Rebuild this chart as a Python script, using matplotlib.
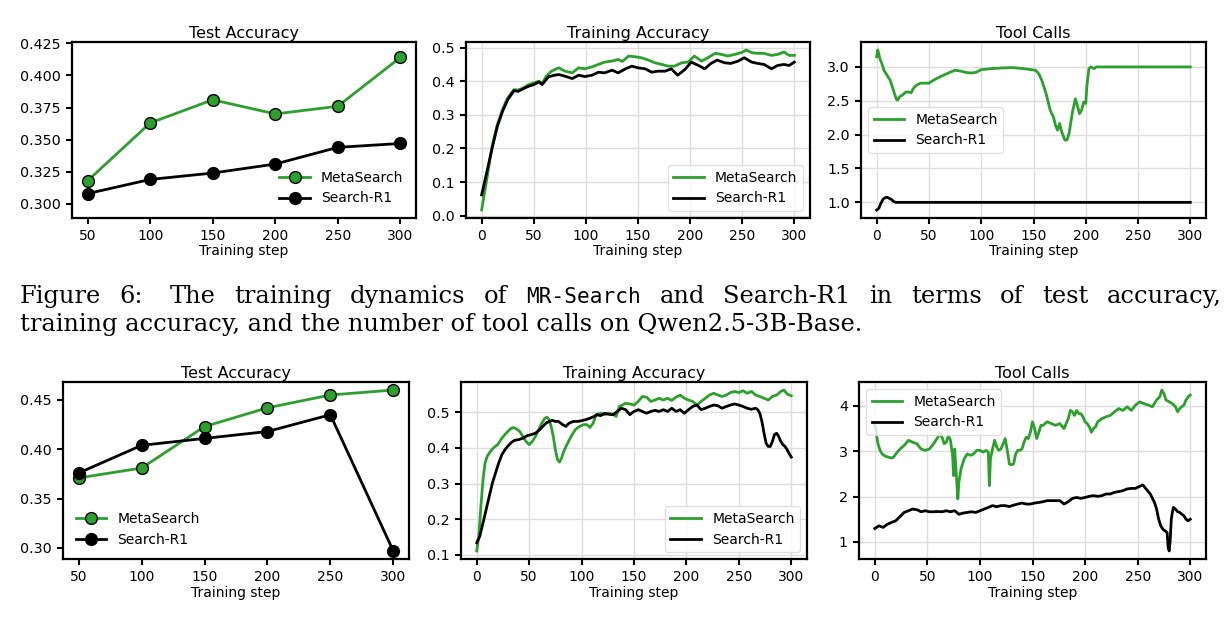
"""
Training dynamics panels (two models) with the caption of Figure 6 in between.
Saves out.png at 1229x621 px.
"""

import matplotlib
matplotlib.use("Agg")
import matplotlib.pyplot as plt

W, H = 1229, 621
GREEN = "#2ca02c"
BLACK = "black"

# ---------------------------------------------------------------------------
# Data
# ---------------------------------------------------------------------------
test_steps = [50, 100, 150, 200, 250, 300]

# row 1 -- Qwen2.5-3B-Base
r1_test_meta = [0.318, 0.363, 0.381, 0.370, 0.376, 0.414]
r1_test_search = [0.308, 0.319, 0.324, 0.331, 0.344, 0.347]

r1_train_meta_x = [0, 5, 10, 15, 20, 25, 31, 35, 40, 45, 50, 55, 58, 62, 67, 74, 80, 87,
                   93, 99, 106, 112, 118, 125, 131, 135, 141, 147, 153, 160, 166, 173,
                   179, 185, 192, 198, 204, 211, 217, 224, 230, 236, 243, 249, 254, 259,
                   265, 271, 278, 284, 290, 295, 300]
r1_train_meta_y = [0.017, 0.11, 0.206, 0.271, 0.316, 0.351, 0.375, 0.374, 0.38, 0.39,
                   0.395, 0.40, 0.393, 0.415, 0.43, 0.44, 0.43, 0.425, 0.44, 0.437,
                   0.443, 0.45, 0.457, 0.46, 0.465, 0.459, 0.475, 0.473, 0.47, 0.463,
                   0.455, 0.45, 0.445, 0.445, 0.455, 0.457, 0.475, 0.46, 0.47, 0.483,
                   0.48, 0.475, 0.48, 0.485, 0.493, 0.485, 0.483, 0.483, 0.477, 0.48,
                   0.487, 0.477, 0.477]
r1_train_search_x = [0, 5, 10, 15, 20, 25, 31, 35, 40, 45, 50, 55, 58, 64, 70, 74, 80, 87,
                     93, 99, 106, 112, 118, 125, 131, 138, 144, 150, 157, 163, 169, 176,
                     182, 188, 195, 201, 208, 214, 220, 226, 233, 239, 246, 252, 259, 265,
                     271, 278, 284, 290, 295, 300]
r1_train_search_y = [0.062, 0.13, 0.20, 0.265, 0.31, 0.345, 0.372, 0.37, 0.378, 0.385,
                     0.39, 0.398, 0.39, 0.413, 0.418, 0.42, 0.415, 0.408, 0.418, 0.414,
                     0.418, 0.427, 0.425, 0.433, 0.425, 0.437, 0.445, 0.44, 0.437, 0.427,
                     0.43, 0.43, 0.437, 0.418, 0.435, 0.457, 0.447, 0.437, 0.453, 0.463,
                     0.455, 0.453, 0.46, 0.47, 0.457, 0.453, 0.45, 0.437, 0.447, 0.45,
                     0.447, 0.457]

r1_tool_meta_x = [0, 1, 2, 3, 5, 7, 9, 11, 13, 15, 17, 19, 20, 22, 25, 28, 30, 33, 35, 38,
                  42, 46, 50, 55, 60, 65, 70, 75, 80, 85, 90, 95, 100, 110, 120, 130, 140,
                  148, 152, 155, 158, 162, 166, 169, 171, 173, 175, 177, 180, 182, 184,
                  187, 190, 192, 194, 196, 198, 200, 201, 203, 205, 208, 210, 220, 250, 300]
r1_tool_meta_y = [3.15, 3.25, 3.2, 3.12, 3.05, 2.95, 2.9, 2.85, 2.8, 2.705, 2.607, 2.518,
                  2.51, 2.56, 2.59, 2.63, 2.63, 2.62, 2.68, 2.73, 2.76, 2.76, 2.76, 2.81,
                  2.85, 2.885, 2.92, 2.95, 2.94, 2.92, 2.91, 2.92, 2.96, 2.975, 2.985,
                  2.99, 2.975, 2.96, 2.95, 2.9, 2.8, 2.607, 2.36, 2.263, 2.14, 2.066,
                  2.165, 2.04, 1.92, 1.92, 2.017, 2.31, 2.53, 2.43, 2.31, 2.36, 2.48,
                  2.46, 2.705, 2.975, 3.0, 2.975, 3.0, 3.0, 3.0, 3.0]
r1_tool_search_x = [0, 2, 4, 6, 8, 10, 12, 14, 16, 18, 20, 300]
r1_tool_search_y = [0.887, 0.91, 0.985, 1.044, 1.069, 1.074, 1.059, 1.044, 1.015, 1.0,
                    1.0, 1.0]

# row 2
r2_test_meta = [0.371, 0.381, 0.423, 0.442, 0.455, 0.460]
r2_test_search = [0.376, 0.404, 0.411, 0.418, 0.435, 0.297]

r2_train_meta_x = [0, 2, 4, 6, 8, 10, 13, 16, 20, 24, 28, 32, 35, 38, 41, 44, 47, 50, 53,
                   56, 59, 62, 65, 67, 69, 71, 73, 75, 77, 79, 81, 83, 86, 90, 94, 98,
                   102, 105, 108, 111, 114, 118, 122, 126, 130, 133, 136, 139, 142, 146,
                   150, 154, 158, 162, 166, 170, 174, 178, 182, 186, 190, 194, 198, 202,
                   206, 210, 214, 218, 222, 226, 230, 234, 238, 242, 246, 250, 254, 258,
                   262, 266, 270, 274, 278, 282, 286, 290, 293, 296, 300]
r2_train_meta_y = [0.111, 0.153, 0.237, 0.311, 0.358, 0.376, 0.39, 0.40, 0.409, 0.427,
                   0.441, 0.453, 0.457, 0.453, 0.446, 0.432, 0.418, 0.409, 0.418, 0.432,
                   0.451, 0.469, 0.483, 0.486, 0.479, 0.46, 0.432, 0.395, 0.367, 0.36,
                   0.372, 0.39, 0.409, 0.432, 0.451, 0.46, 0.465, 0.465, 0.457, 0.469,
                   0.493, 0.497, 0.493, 0.497, 0.494, 0.488, 0.516, 0.52, 0.525, 0.523,
                   0.52, 0.53, 0.544, 0.542, 0.53, 0.534, 0.539, 0.534, 0.539, 0.533,
                   0.542, 0.548, 0.539, 0.534, 0.53, 0.52, 0.53, 0.539, 0.548, 0.553,
                   0.548, 0.544, 0.548, 0.555, 0.558, 0.555, 0.56, 0.553, 0.558, 0.548,
                   0.544, 0.539, 0.534, 0.544, 0.548, 0.558, 0.562, 0.551, 0.546]
r2_train_search_x = [0, 3, 6, 9, 12, 15, 18, 21, 24, 27, 30, 33, 36, 40, 44, 48, 52, 56,
                     60, 63, 66, 69, 72, 75, 78, 82, 85, 88, 92, 96, 100, 104, 108, 112,
                     115, 118, 122, 126, 130, 134, 138, 142, 146, 150, 154, 158, 162, 166,
                     170, 174, 178, 182, 186, 190, 194, 198, 202, 206, 210, 214, 218, 222,
                     226, 230, 234, 238, 242, 246, 250, 254, 258, 262, 266, 268, 270, 272,
                     274, 276, 278, 280, 282, 284, 286, 288, 290, 292, 294, 296, 298, 300]
r2_train_search_y = [0.134, 0.153, 0.19, 0.227, 0.265, 0.302, 0.33, 0.358, 0.381, 0.395,
                     0.406, 0.415, 0.421, 0.423, 0.427, 0.434, 0.437, 0.441, 0.451, 0.46,
                     0.469, 0.474, 0.477, 0.474, 0.474, 0.465, 0.46, 0.469, 0.474, 0.474,
                     0.476, 0.479, 0.483, 0.488, 0.493, 0.49, 0.497, 0.494, 0.493, 0.502,
                     0.511, 0.507, 0.493, 0.502, 0.507, 0.502, 0.497, 0.502, 0.505, 0.502,
                     0.507, 0.502, 0.511, 0.502, 0.507, 0.497, 0.507, 0.516, 0.52, 0.507,
                     0.511, 0.516, 0.52, 0.518, 0.511, 0.516, 0.52, 0.523, 0.52, 0.516,
                     0.511, 0.508, 0.511, 0.507, 0.497, 0.474, 0.441, 0.413, 0.404, 0.404,
                     0.418, 0.437, 0.441, 0.432, 0.418, 0.409, 0.404, 0.395, 0.384, 0.374]

r2_tool_meta_x = [0, 1, 2, 3, 5, 7, 10, 13, 16, 18, 20, 24, 28, 32, 36, 40, 44, 48, 52, 56,
                  60, 62, 64, 66, 68, 70, 72, 74, 75, 76, 77, 79, 80, 82, 85, 88, 91, 94,
                  97, 100, 103, 106, 108, 109, 110, 112, 114, 116, 118, 120, 122, 124,
                  126, 128, 130, 132, 134, 136, 138, 140, 142, 144, 146, 148, 150, 152,
                  154, 156, 158, 160, 164, 168, 172, 176, 180, 184, 186, 188, 190, 192,
                  194, 196, 198, 200, 202, 204, 206, 208, 210, 212, 216, 220, 224, 228,
                  232, 236, 240, 244, 248, 252, 256, 260, 264, 268, 271, 273, 275, 277,
                  280, 283, 286, 288, 290, 292, 294, 296, 298, 300]
r2_tool_meta_y = [3.572, 3.50, 3.31, 3.17, 3.02, 2.94, 2.89, 2.87, 2.85, 2.87, 2.94, 3.05,
                  3.13, 3.24, 3.20, 3.165, 3.05, 3.02, 3.05, 3.165, 3.31, 3.39, 3.31,
                  3.165, 3.20, 3.35, 3.24, 2.91, 2.46, 3.05, 2.68, 1.946, 2.32, 2.61,
                  2.83, 2.94, 2.91, 2.94, 3.02, 3.02, 2.98, 3.02, 2.98, 2.24, 2.83, 3.05,
                  3.24, 3.09, 3.02, 3.05, 3.165, 3.28, 3.02, 2.72, 2.70, 2.72, 2.94, 3.02,
                  3.02, 3.05, 3.20, 3.31, 3.28, 3.42, 3.65, 3.50, 3.28, 3.42, 3.57, 3.57,
                  3.65, 3.61, 3.57, 3.61, 3.50, 3.72, 3.90, 3.87, 3.79, 3.90, 3.83, 3.83,
                  3.76, 3.65, 3.61, 3.54, 3.42, 3.50, 3.54, 3.65, 3.72, 3.76, 3.79, 3.87,
                  3.94, 3.90, 3.98, 3.90, 4.02, 4.09, 4.05, 4.02, 3.98, 4.13, 4.20, 4.35,
                  4.27, 4.13, 4.09, 4.05, 3.98, 3.87, 3.94, 3.98, 4.02, 4.13, 4.20, 4.24]
r2_tool_search_x = [0, 4, 8, 12, 16, 20, 24, 28, 32, 36, 40, 44, 48, 52, 56, 60, 64, 68,
                    72, 76, 80, 84, 88, 92, 96, 100, 104, 108, 112, 116, 120, 124, 128,
                    132, 136, 140, 144, 148, 152, 156, 160, 164, 168, 172, 176, 180, 184,
                    188, 192, 196, 200, 204, 208, 212, 216, 220, 224, 228, 232, 236, 240,
                    244, 248, 252, 255, 258, 262, 266, 268, 270, 272, 274, 276, 278, 279,
                    280, 281, 282, 283, 284, 286, 288, 290, 292, 294, 296, 298, 300]
r2_tool_search_y = [1.296, 1.355, 1.32, 1.39, 1.43, 1.466, 1.56, 1.65, 1.687, 1.724, 1.71,
                    1.665, 1.687, 1.665, 1.665, 1.67, 1.665, 1.687, 1.665, 1.687, 1.61,
                    1.636, 1.65, 1.665, 1.65, 1.687, 1.724, 1.76, 1.80, 1.776, 1.80, 1.80,
                    1.78, 1.81, 1.835, 1.857, 1.835, 1.835, 1.857, 1.87, 1.887, 1.91,
                    1.91, 1.91, 1.91, 1.835, 1.887, 1.96, 1.98, 1.96, 1.98, 2.005, 2.02,
                    2.005, 2.02, 2.057, 2.057, 2.094, 2.11, 2.13, 2.168, 2.18, 2.18,
                    2.227, 2.256, 2.168, 2.057, 1.87, 1.724, 1.50, 1.355, 1.28, 1.244,
                    1.207, 0.874, 0.80, 1.06, 1.50, 1.65, 1.76, 1.724, 1.665, 1.65, 1.61,
                    1.576, 1.50, 1.466, 1.50]

caption_line1 = [("Figure", "serif"), ("6:", "serif"), ("The", "serif"),
                 ("training", "serif"), ("dynamics", "serif"), ("of", "serif"),
                 ("MR-Search", "mono"), ("and", "serif"), ("Search-R1", "serif"),
                 ("in", "serif"), ("terms", "serif"), ("of", "serif"), ("test", "serif"),
                 ("accuracy,", "serif")]
caption_line2 = "training accuracy, and the number of tool calls on Qwen2.5-3B-Base."

# ---------------------------------------------------------------------------
plt.rcParams.update({
    "font.family": "DejaVu Sans",
    "axes.linewidth": 1.6,
    "xtick.major.width": 1.5, "ytick.major.width": 1.5,
    "xtick.major.size": 4.5, "ytick.major.size": 4.5,
    "xtick.labelsize": 10, "ytick.labelsize": 10.3,
    "axes.titlesize": 11.5, "axes.labelsize": 10,
    "legend.fontsize": 10,
    "grid.color": "#dedede", "grid.linewidth": 1.0,
})

SERIF = "DejaVu Serif"
MONO = "DejaVu Sans Mono"


def _axes(fig, left, top, right, bottom):
    # box in pixels from the top-left corner
    return fig.add_axes([left / W, 1 - bottom / H, (right - left) / W, (bottom - top) / H])


def _finish(ax, title):
    ax.set_title(title, pad=3)
    ax.set_xlabel("Training step", labelpad=1)


def test_panel(ax, meta, search, loc, ylim=None):
    kw = dict(lw=2, marker="o", ms=8.5, mec="black", mew=1)
    ax.plot(test_steps, meta, color=GREEN, mfc=GREEN, label="MetaSearch", **kw)
    ax.plot(test_steps, search, color=BLACK, mfc=BLACK, label="Search-R1", **kw)
    ax.set_xticks(test_steps)
    if ylim:
        ax.set_ylim(*ylim)
    ax.legend(loc=loc, frameon=False, handlelength=2.2)
    _finish(ax, "Test Accuracy")


def curve_panel(ax, xm, ym, xs, ys, title, loc):
    ax.plot(xm, ym, color=GREEN, lw=2, label="MetaSearch")
    ax.plot(xs, ys, color=BLACK, lw=2, label="Search-R1")
    ax.set_xticks(range(0, 301, 50))
    ax.grid(True)
    ax.set_axisbelow(True)
    ax.legend(loc=loc, edgecolor="0.85", handlelength=2.2)
    _finish(ax, title)


def caption(fig):
    """Two caption lines; the first is justified to the page width."""
    r = fig.canvas.get_renderer()

    def width(txt, fam, size):
        t = fig.text(0, 0, txt, family=fam, size=size)
        w = t.get_window_extent(r).width
        t.remove()
        return w

    fam = {"serif": SERIF, "mono": MONO}
    scale = {"serif": 1.0, "mono": 0.88}
    x0, x1 = 20, 1222
    space10 = width("a a", SERIF, 10) - width("aa", SERIF, 10)
    natural10 = sum(width(t, fam[k], 10 * scale[k]) for t, k in caption_line1)
    natural10 += space10 * (len(caption_line1) + 1)  # a bit wider after the colon
    size = 10 * (x1 - x0) * 0.89 / natural10

    widths = [width(t, fam[k], size * scale[k]) for t, k in caption_line1]
    extra = space10 * size / 10
    gap = (x1 - x0 - sum(widths) - extra) / (len(widths) - 1)
    x = x0
    for i, ((t, k), w) in enumerate(zip(caption_line1, widths)):
        fig.text(x / W, 1 - 303 / H, t, family=fam[k], size=size * scale[k],
                 va="baseline")
        x += w + gap + (extra if i == 1 else 0)
    fig.text(x0 / W, 1 - 331 / H, caption_line2, family=SERIF, size=size,
             va="baseline")


fig = plt.figure(figsize=(W / 100, H / 100), dpi=100)

ax = _axes(fig, 72, 42, 416, 218)
test_panel(ax, r1_test_meta, r1_test_search, "lower right", ylim=(0.289, 0.426))
ax = _axes(fig, 466, 42, 810, 218)
curve_panel(ax, r1_train_meta_x, r1_train_meta_y, r1_train_search_x, r1_train_search_y,
            "Training Accuracy", "lower right")
ax.set_yticks([0.0, 0.1, 0.2, 0.3, 0.4, 0.5])
ax = _axes(fig, 861, 42, 1206, 218)
curve_panel(ax, r1_tool_meta_x, r1_tool_meta_y, r1_tool_search_x, r1_tool_search_y,
            "Tool Calls", "center left")

ax = _axes(fig, 63, 382, 409, 559)
test_panel(ax, r2_test_meta, r2_test_search, "lower left")
ax = _axes(fig, 461, 382, 807, 559)
curve_panel(ax, r2_train_meta_x, r2_train_meta_y, r2_train_search_x, r2_train_search_y,
            "Training Accuracy", "lower right")
ax = _axes(fig, 859, 382, 1206, 559)
curve_panel(ax, r2_tool_meta_x, r2_tool_meta_y, r2_tool_search_x, r2_tool_search_y,
            "Tool Calls", "upper left")

caption(fig)

fig.savefig("out.png", dpi=100)
